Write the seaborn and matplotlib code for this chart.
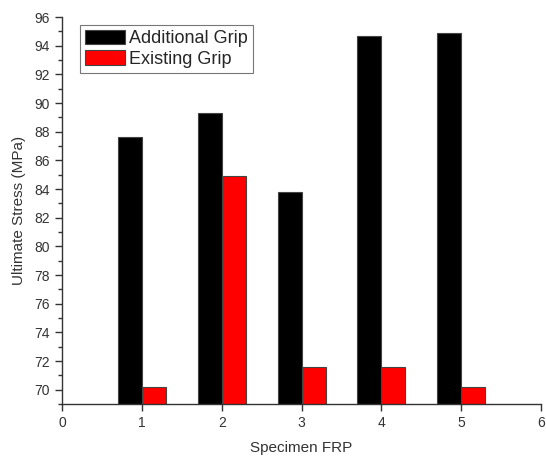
import numpy as np
import pandas as pd
import matplotlib
matplotlib.use('Agg')
import matplotlib.pyplot as plt
import seaborn as sns
from matplotlib.ticker import MultipleLocator

# Data
specimens = [1, 2, 3, 4, 5]
additional_grip = [87.6, 89.3, 83.8, 94.7, 94.9]
existing_grip = [70.2, 84.9, 71.6, 71.6, 70.2]
series_names = ['Additional Grip', 'Existing Grip']

df = pd.DataFrame({
    'Specimen': specimens * 2,
    'Stress': additional_grip + existing_grip,
    'Grip': [series_names[0]] * 5 + [series_names[1]] * 5,
})

sns.set_style('ticks')
plt.rcParams['font.family'] = ['Liberation Sans', 'DejaVu Sans']

fig = plt.figure(figsize=(5.46, 4.61), dpi=100)
ax = fig.add_axes([0.1136, 0.1236, 0.8774, 0.8394])

sns.barplot(data=df, x='Specimen', y='Stress', hue='Grip', native_scale=True,
            palette=['black', 'red'], saturation=1, width=0.6, edgecolor='#444444',
            linewidth=0.8, errorbar=None, ax=ax)

# Axis setup
ax.set_xlim(0, 6)
ax.set_ylim(69, 96)
ax.xaxis.set_major_locator(MultipleLocator(1))
ax.yaxis.set_major_locator(MultipleLocator(2))
ax.yaxis.set_minor_locator(MultipleLocator(1))
ax.tick_params(axis='both', which='major', direction='out', length=5, width=1, labelsize=10,
               colors='#333333', labelcolor='#333333')
ax.tick_params(axis='y', which='minor', direction='out', length=3, width=1, colors='#333333')
for s in ['top', 'right']:
    ax.spines[s].set_visible(False)
for s in ['left', 'bottom']:
    ax.spines[s].set_color('#333333')
    ax.spines[s].set_linewidth(1)

ax.set_xlabel('Specimen FRP', fontsize=11, color='#333333', labelpad=8)
ax.set_ylabel('Ultimate Stress (MPa)', fontsize=11, color='#333333', labelpad=6)

leg = ax.legend(loc='upper left', bbox_to_anchor=(0.03, 0.99), fontsize=13, frameon=True,
                fancybox=False, edgecolor='#555555', handlelength=2.2, handleheight=0.85,
                borderpad=0.3, labelspacing=0.15, handletextpad=0.2, borderaxespad=0.2)
leg.get_frame().set_linewidth(0.8)

plt.savefig('out.png', dpi=100)
